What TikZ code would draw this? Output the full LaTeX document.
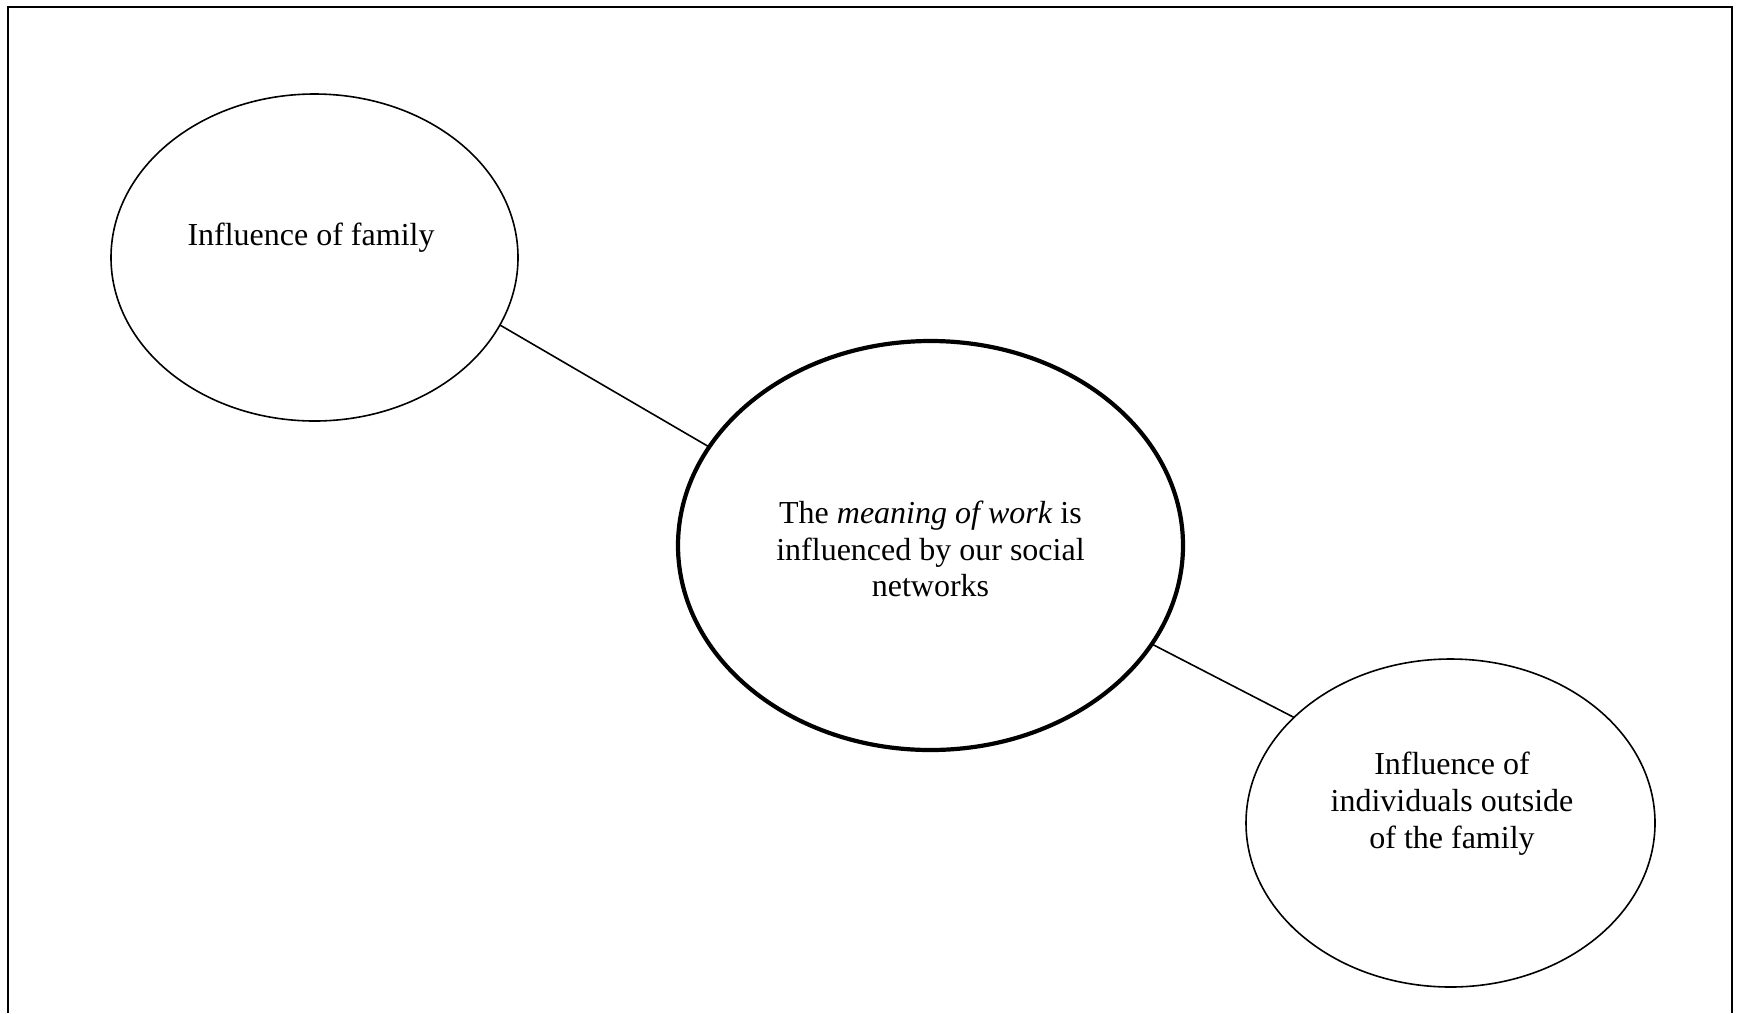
\documentclass[tikz,border=0pt]{standalone}
\usepackage{fontspec}
\setmainfont{Liberation Serif}
\usetikzlibrary{shapes.geometric}
\begin{document}
\begin{tikzpicture}[x=1pt,y=-1pt,
  bubble/.style={ellipse,draw,line width=1.6pt,inner sep=0pt,outer sep=0pt},
  hub/.style={bubble,line width=4.2pt},
  caption/.style={align=center,inner sep=0pt,font=\fontsize{32}{36.8}\selectfont},
  link/.style={line width=1.6pt}]
  \useasboundingbox (0,0) rectangle (1737,1013);
  % open frame: left, top and right sides only
  \draw[line width=2pt] (7.75,1013) -- (7.75,6.6) -- (1731.5,6.6) -- (1731.5,1013);

  \node[bubble,minimum width=407pt,minimum height=327pt] (family) at (314.5,257.5) {};
  \node[hub,minimum width=505pt,minimum height=409pt] (meaning) at (930.5,545.5) {};
  \node[bubble,minimum width=409pt,minimum height=328pt] (outside) at (1450.5,823) {};

  \node[caption] (familytext) at (311,237.5) {Influence of family};
  \node[caption] (meaningtext) at (930.5,549) {The \emph{meaning of work} is\\influenced by our social\\networks};
  \node[caption] (outsidetext) at (1452,803.5) {Influence of\\individuals outside\\of the family};

  \draw[link] (family.-20) -- (meaning.156.4);
  \draw[link] (meaning.-24.8) -- (outside.146.4);
\end{tikzpicture}
\end{document}
